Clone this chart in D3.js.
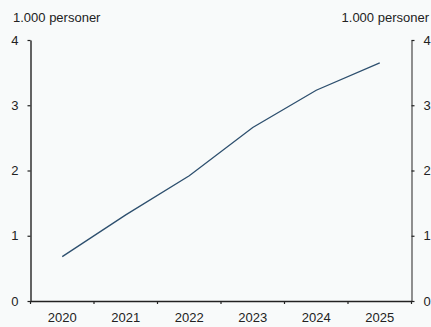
<!DOCTYPE html>
<html><head><meta charset="utf-8">
<script src="https://cdn.jsdelivr.net/npm/d3@7"></script>
<style>body{margin:0;background:#f8fafa;}svg{display:block;font-family:"Liberation Sans",Arial,sans-serif;}</style>
</head><body>
<svg id="c" width="431" height="327"></svg>
<script>
const years = ["2020","2021","2022","2023","2024","2025"];
const values = [0.68, 1.32, 1.92, 2.66, 3.23, 3.65];
const yTicks = [0,1,2,3,4];
const unitLabel = "1.000 personer";

const svg = d3.select("#c");
const m = {left:30.5, right:411.5, top:40, bottom:301};
const x = d3.scaleBand().domain(years).range([m.left, m.right]);
const y = d3.scaleLinear().domain([0,4]).range([m.bottom, m.top]);

svg.append("rect").attr("width",431).attr("height",327).attr("fill","#f8fafa");

// left axis
const gl = svg.append("g").attr("transform",`translate(${m.left},0)`)
  .call(d3.axisLeft(y).tickValues(yTicks).tickSize(3).tickPadding(9).tickSizeOuter(0).tickFormat(d3.format("d")));
gl.select(".domain").attr("stroke","#111").attr("stroke-width",1.3);
// right axis
const gr = svg.append("g").attr("transform",`translate(${m.right},0)`)
  .call(d3.axisRight(y).tickValues(yTicks).tickSize(3).tickPadding(9).tickSizeOuter(0).tickFormat(d3.format("d")));
gr.select(".domain").attr("stroke","#555").attr("stroke-width",1.3);
// bottom axis with ticks at band boundaries
const gb = svg.append("g").attr("transform",`translate(0,${m.bottom})`)
  .call(d3.axisBottom(x).tickSize(0).tickPadding(12));
gb.select(".domain").attr("stroke","#222").attr("stroke-width",1.3);
const bounds = years.map(d => x(d)).concat([m.right]);
gb.selectAll(".bt").data(bounds).enter().append("line")
  .attr("x1",d=>d).attr("x2",d=>d).attr("y1",0).attr("y2",3)
  .attr("stroke","#222").attr("stroke-width",1.2);

svg.selectAll(".tick text").attr("font-size",13).attr("fill","#222").attr("font-family","Liberation Sans, Arial, sans-serif");
svg.selectAll(".tick line").attr("stroke","#222").attr("stroke-width",1.2);

// unit labels
svg.append("text").attr("x",13).attr("y",22).attr("font-size",13).attr("fill","#222").text(unitLabel);
svg.append("text").attr("x",429).attr("y",22).attr("text-anchor","end").attr("font-size",13).attr("fill","#222").text(unitLabel);

// line
const line = d3.line().x((d,i)=>x(years[i])+x.bandwidth()/2).y(d=>y(d));
svg.append("path").datum(values).attr("d",line).attr("fill","none")
  .attr("stroke","#2d4f6e").attr("stroke-width",1.3);
</script>
</body></html>
